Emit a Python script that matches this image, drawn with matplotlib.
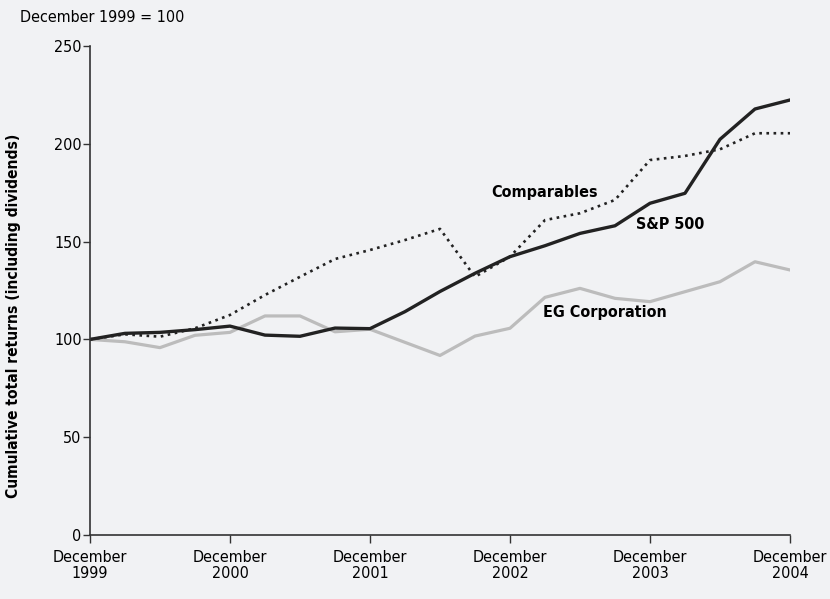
import matplotlib
matplotlib.use("Agg")
import matplotlib.pyplot as plt
import numpy as np

plt.rcParams['font.family'] = ['DejaVu Sans']
plt.rcParams['font.stretch'] = 'condensed'

quarters = np.arange(21)
tick_labels = ["December\n1999", "December\n2000", "December\n2001",
               "December\n2002", "December\n2003", "December\n2004"]
sp500 = [100, 103.1, 103.6, 105, 106.8, 102.2, 101.6, 105.8, 105.5, 114.2, 124.5,
         133.8, 142.3, 147.9, 154.2, 158.1, 169.6, 174.7, 202.3, 217.8, 222.4]
comparables = [100, 102.6, 101.4, 105.7, 112.5, 122.7, 132, 141.1, 145.7, 150.8, 156.5,
               132, 142.3, 161, 164.5, 171.3, 191.7, 193.8, 197.2, 205.4, 205.4]
eg_corp = [100, 98.8, 95.8, 102.1, 103.6, 112, 112, 103.9, 105.2, 98.5, 91.8,
           101.7, 105.7, 121.5, 126.1, 121, 119.3, 124.4, 129.5, 139.7, 135.5]

bg = '#f1f2f4'
fig = plt.figure(figsize=(8.3, 5.99), dpi=100, facecolor=bg)
ax = fig.add_axes([0.1084, 0.1068, 0.8434, 0.8164], facecolor=bg)

ax.plot(quarters, eg_corp, color='#bcbcbc', lw=2.3)
ax.plot(quarters, comparables, color='#222222', lw=1.9, linestyle=(0, (1, 1.7)))
ax.plot(quarters, sp500, color='#222222', lw=2.4)

ax.set_xlim(0, 20)
ax.set_ylim(0, 250)
ax.set_xticks(np.arange(0, 21, 4))
ax.set_xticklabels(tick_labels, fontsize=11.5, linespacing=1.05)
ax.set_yticks([0, 50, 100, 150, 200, 250])
ax.tick_params(axis='y', labelsize=11.5, length=5, width=1, color='#333333', pad=1)
ax.tick_params(axis='x', length=6, width=1, color='#333333', pad=5)
for s in ['top', 'right']:
    ax.spines[s].set_visible(False)
for s in ['left', 'bottom']:
    ax.spines[s].set_color('#333333')
    ax.spines[s].set_linewidth(1.2)

fig.text(14/830, 1 - 316/599, "Cumulative total returns (including dividends)",
         fontsize=11.2, fontweight='bold', rotation=90, ha='center', va='center')
fig.text(20/830, 1 - 18/599, "December 1999 = 100", fontsize=11.5, va='center', ha='left')

ax.text(13.0, 175, "Comparables", fontsize=11.5, fontweight='bold', ha='center', va='center')
ax.text(16.57, 159, "S&P 500", fontsize=11.5, fontweight='bold', ha='center', va='center')
ax.text(14.7, 114, "EG Corporation", fontsize=11.5, fontweight='bold', ha='center', va='center')

fig.savefig("out.png", dpi=100, facecolor=bg)
